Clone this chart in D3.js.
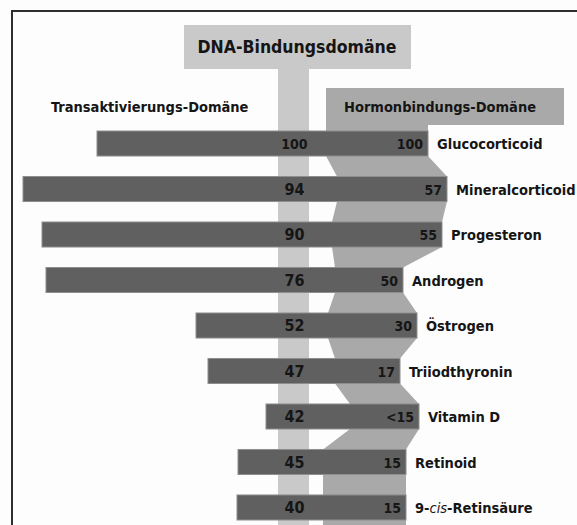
<!DOCTYPE html>
<html>
<head>
<meta charset="utf-8">
<script src="https://cdn.jsdelivr.net/npm/d3@7"></script>
<style>
    body { margin: 0; background: #fdfdfd; }
    svg text { font-family: "Liberation Sans Narrow", "Arial Narrow", "DejaVu Sans Condensed", sans-serif; font-weight: bold; fill: #151515; }
</style>
</head>
<body>
<div id="content"></div>
<script>
// receptors, homology (%) to the glucocorticoid receptor per domain
var receptors = ["Glucocorticoid", "Mineralcorticoid", "Progesteron", "Androgen", "Östrogen",
                 "Triiodthyronin", "Vitamin D", "Retinoid", "9-cis-Retinsäure"];
var dnaHomology = ["100", "94", "90", "76", "52", "47", "42", "45", "40"];
var hormoneHomology = ["100", "57", "55", "50", "30", "17", "<15", "15", "15"];

// schematic domain borders, relative to the start of the DNA binding domain
var nTermStart = [-181, -255, -236, -232, -82, -70, -12, -40, -41];
var hormoneStart = [48, 59, 54, 57, 50, 57, 72, 45, 45];
var hormoneEnd = [150, 169, 164, 125, 139, 122, 141, 128, 128];
var dnaDomain = [0, 31];

var W = 577, H = 525;
var svg = d3.select("#content").append("svg").attr("width", W).attr("height", H);

var x = d3.scaleLinear().domain([0, 31]).range([278, 309]);
var y = d3.scaleBand().domain(receptors).range([131, 520]).paddingInner(0.45).paddingOuter(0);
var bw = y.bandwidth();

var rows = receptors.map(function(r, i) {
    return {name: r, dna: dnaHomology[i], hormone: hormoneHomology[i],
            start: nTermStart[i], hStart: hormoneStart[i], hEnd: hormoneEnd[i]};
});

// frame
svg.append("rect").attr("x", 12).attr("y", 11).attr("width", 700).attr("height", 700)
    .attr("fill", "#fdfdfd").attr("stroke", "#2e2e2e").attr("stroke-width", 2);

// DNA binding domain column + title box
svg.append("rect").attr("x", x(dnaDomain[0])).attr("y", 60)
    .attr("width", x(dnaDomain[1]) - x(dnaDomain[0])).attr("height", H)
    .attr("fill", "#c9c9c9");
svg.append("rect").attr("x", 184).attr("y", 25).attr("width", 227).attr("height", 44)
    .attr("fill", "#c9c9c9");
svg.append("text").attr("x", 297).attr("y", 53).attr("text-anchor", "middle")
    .style("font-size", "17.5px")
    .text("DNA-Bindungsdomäne");

// hormone binding domain outline
var pts = [[x(hormoneStart[0]), 88], [564, 88], [564, 125], [x(hormoneEnd[0]), 125]];
rows.forEach(function(d) {
    pts.push([x(d.hEnd), y(d.name)]);
    pts.push([x(d.hEnd), y(d.name) + bw]);
});
pts.push([x(hormoneEnd[hormoneEnd.length - 1]), H + 5]);
pts.push([x(hormoneStart[hormoneStart.length - 1]), H + 5]);
rows.slice().reverse().forEach(function(d) {
    pts.push([x(d.hStart), y(d.name) + bw]);
    pts.push([x(d.hStart), y(d.name)]);
});
svg.append("path").attr("d", d3.line()(pts) + "Z").attr("fill", "#a9a9a9");

svg.append("text").attr("x", 344).attr("y", 107).attr("dy", "0.36em")
    .style("font-size", "14.5px")
    .text("Hormonbindungs-Domäne");
svg.append("text").attr("x", 51).attr("y", 107).attr("dy", "0.36em")
    .style("font-size", "14.5px")
    .text("Transaktivierungs-Domäne");

// receptor bars
svg.selectAll(".bar")
    .data(rows)
    .enter().append("rect")
    .attr("class", "bar")
    .attr("x", function(d) { return x(d.start); })
    .attr("y", function(d) { return y(d.name); })
    .attr("width", function(d) { return x(d.hEnd) - x(d.start); })
    .attr("height", bw)
    .attr("fill", "#606060")
    .attr("stroke", "#8e8e8e")
    .attr("stroke-width", 1);

svg.selectAll(".dna")
    .data(rows)
    .enter().append("text")
    .attr("class", "dna")
    .attr("x", (x(dnaDomain[0]) + x(dnaDomain[1])) / 2 + 1)
    .attr("y", function(d) { return y(d.name) + bw / 2; })
    .attr("dy", "0.37em")
    .attr("text-anchor", "middle")
    .style("font-size", function(d) { return d.dna == "100" ? "14px" : "16px"; })
    .text(function(d) { return d.dna; });

svg.selectAll(".hbd")
    .data(rows)
    .enter().append("text")
    .attr("class", "hbd")
    .attr("x", function(d) { return x(d.hEnd) - 5; })
    .attr("y", function(d) { return y(d.name) + bw / 2; })
    .attr("dy", "0.4em")
    .attr("text-anchor", "end")
    .style("font-size", "14px")
    .text(function(d) { return d.hormone; });

var names = svg.selectAll(".name")
    .data(rows)
    .enter().append("text")
    .attr("class", "name")
    .attr("x", function(d) { return x(d.hEnd) + 9; })
    .attr("y", function(d) { return y(d.name) + bw / 2; })
    .attr("dy", "0.38em")
    .style("font-size", "14.5px");

names.each(function(d) {
    var t = d3.select(this);
    var m = d.name.match(/^(9-)(cis)(-.*)$/);
    if (m) {
        t.append("tspan").text(m[1]);
        t.append("tspan").style("font-style", "italic").style("font-weight", "normal").text(m[2]);
        t.append("tspan").text(m[3]);
    } else {
        t.text(d.name);
    }
});
</script>
</body>
</html>
